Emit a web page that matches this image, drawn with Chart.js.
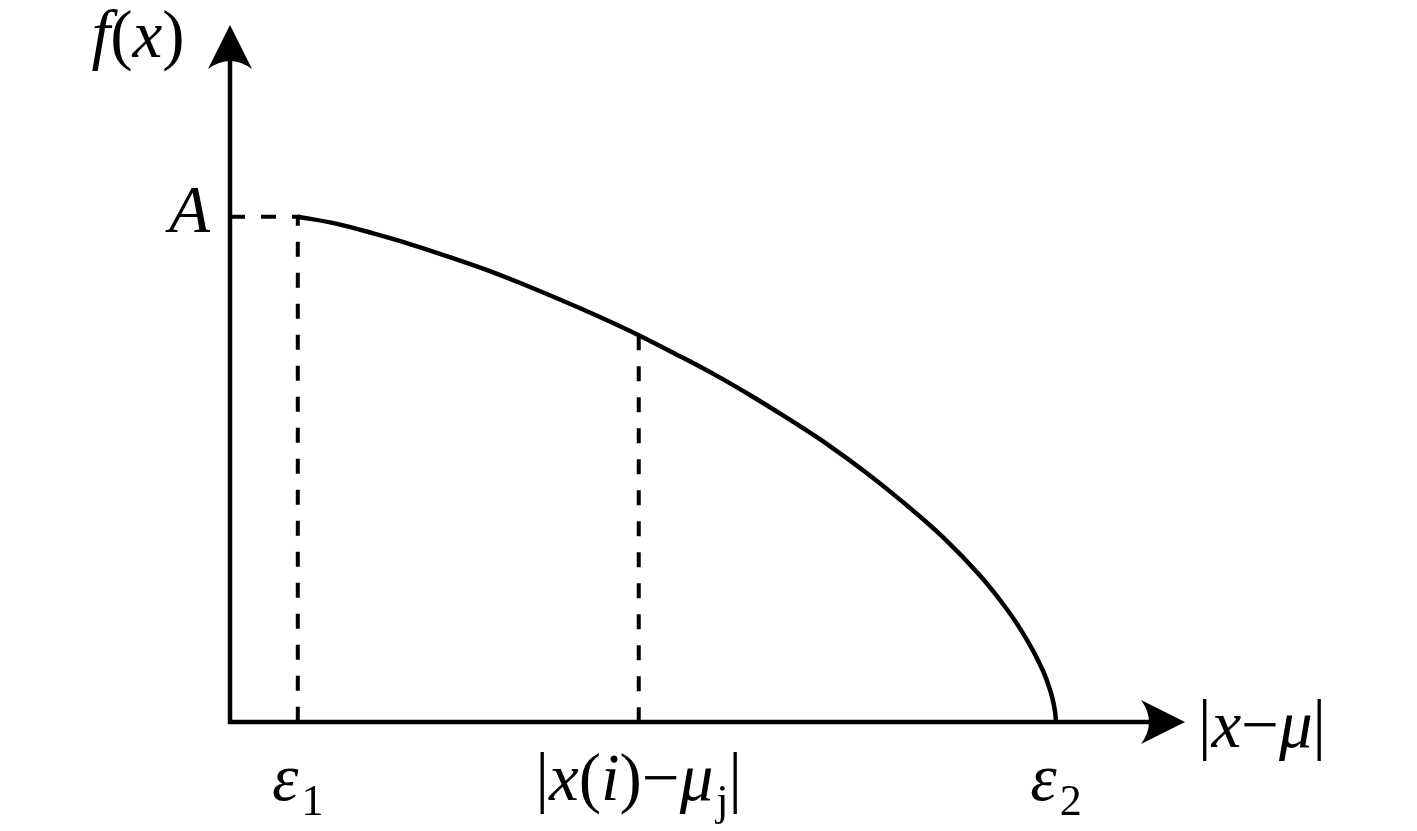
<!DOCTYPE html>
<html>
<head>
<meta charset="utf-8">
<script src="https://cdn.jsdelivr.net/npm/chart.js@4.4.1/dist/chart.umd.min.js"></script>
<style>
html,body{margin:0;padding:0;background:#fff;}
#wrap{width:1417px;height:831px;}
</style>
</head>
<body>
<div id="wrap"><canvas id="c" width="1417" height="831"></canvas></div>
<script>
// ---- data (abstract units: x and y both 0..100) ----
const curveX = [7.1, 11.1, 15.0, 19.0, 23.0, 27.0, 30.9, 34.9, 38.9, 42.8, 46.8, 50.8, 54.7, 58.7, 62.7, 66.7, 70.6, 74.6, 78.6, 80.9, 82.5, 84.1, 84.9, 85.3, 85.7, 86.1, 86.4, 86.5];
const curveY = [72.5, 71.5, 70.1, 68.5, 66.7, 64.8, 62.7, 60.4, 58.0, 55.5, 52.7, 49.8, 46.7, 43.3, 39.7, 35.7, 31.4, 26.6, 20.9, 17.0, 13.9, 10.2, 8.0, 6.8, 5.3, 3.5, 1.4, 0];
const peakA = 72.5;
const eps1 = 7.1, xiMu = 42.8, eps2 = 86.5;
const xTickValues = [eps1, xiMu, eps2];
// label pieces: [text, 'i' italic | 'n' normal | 'sn' subscript]
const xTickLabels = [
  [['ε','i'],['1','sn']],
  [['|','n'],['x','i'],['(','n'],['i','i'],[')','n'],['−','n'],['μ','i'],['j','sn'],['|','n']],
  [['ε','i'],['2','sn']]
];
const yTickValues = [peakA];
const yTickLabels = [[['A','i']]];
const yAxisTitle = [['f','i'],['(','n'],['x','i'],[')','n']];
const xAxisTitle = [['|','n'],['x','i'],['−','n'],['μ','i'],['|','n']];

const curvePts = curveX.map((x,i)=>({x, y: curveY[i]}));
const midY = curveY[curveX.indexOf(xiMu)];

const FS = 67, SFS = 44;
const FAM = '"Liberation Serif", "DejaVu Serif", serif';
function fontFor(st){
  if (st==='i') return 'italic ' + FS + 'px ' + FAM;
  if (st==='n') return FS + 'px ' + FAM;
  if (st==='si') return 'italic ' + SFS + 'px ' + FAM;
  return SFS + 'px ' + FAM;
}
function measureRich(ctx, parts){
  let w=0;
  for (const [t,st] of parts){ ctx.font=fontFor(st); w+=ctx.measureText(t).width + (st[0]==='s'?3:0); }
  return w;
}
function drawRich(ctx, parts, x, y, align){
  const w = measureRich(ctx, parts);
  let cx = align==='center' ? x - w/2 : (align==='right' ? x - w : x);
  ctx.textBaseline='alphabetic'; ctx.textAlign='left'; ctx.fillStyle='#000';
  for (const [t,st] of parts){
    ctx.font=fontFor(st);
    const sub = st[0]==='s';
    if (sub) cx += 3;
    ctx.fillText(t, cx, sub ? y+15 : y);
    cx += ctx.measureText(t).width;
  }
}

const axesPlugin = {
  id:'axesPlugin',
  afterDatasetsDraw(chart){
    const ctx = chart.ctx, xs = chart.scales.x, ys = chart.scales.y;
    const x0 = xs.getPixelForValue(0), y0 = ys.getPixelForValue(0);
    const xEnd = xs.getPixelForValue(100), yEnd = ys.getPixelForValue(100);
    ctx.save();
    ctx.strokeStyle='#000'; ctx.lineWidth=4.5; ctx.lineCap='butt';
    ctx.beginPath();
    ctx.moveTo(x0-2.25, y0); ctx.lineTo(xEnd-20, y0);
    ctx.moveTo(x0, y0+2.25); ctx.lineTo(x0, yEnd+20);
    ctx.stroke();
    ctx.fillStyle='#000';
    // y arrow
    ctx.beginPath();
    ctx.moveTo(x0, yEnd);
    ctx.lineTo(x0+22, yEnd+44);
    ctx.quadraticCurveTo(x0, yEnd+28, x0-22, yEnd+44);
    ctx.closePath(); ctx.fill();
    // x arrow
    ctx.beginPath();
    ctx.moveTo(xEnd, y0);
    ctx.lineTo(xEnd-44, y0+22);
    ctx.quadraticCurveTo(xEnd-28, y0, xEnd-44, y0-22);
    ctx.closePath(); ctx.fill();
    // labels
    xTickValues.forEach((v,i)=>{
      drawRich(ctx, xTickLabels[i], xs.getPixelForValue(v), y0+78, 'center');
    });
    yTickValues.forEach((v,i)=>{
      drawRich(ctx, yTickLabels[i], x0-20, ys.getPixelForValue(v)+15, 'right');
    });
    drawRich(ctx, yAxisTitle, x0-92, yEnd+32, 'center');
    drawRich(ctx, xAxisTitle, xEnd+13, y0+25, 'left');
    ctx.restore();
  }
};

new Chart(document.getElementById('c'), {
  type:'scatter',
  data:{
    datasets:[
      {data:curvePts, showLine:true, borderColor:'#000', borderWidth:4.5, pointRadius:0, cubicInterpolationMode:'monotone', fill:false},
      {data:[{x:0,y:peakA},{x:eps1,y:peakA},{x:eps1,y:0}], showLine:true, borderColor:'#000', borderWidth:4, borderDash:[15,16], pointRadius:0, tension:0},
      {data:[{x:xiMu,y:midY},{x:xiMu,y:0}], showLine:true, borderColor:'#000', borderWidth:4, borderDash:[15,16], pointRadius:0, tension:0}
    ]
  },
  options:{
    responsive:false, animation:false, devicePixelRatio:1,
    layout:{padding:{left:230, right:232, top:25, bottom:109}},
    plugins:{legend:{display:false}, tooltip:{enabled:false}},
    scales:{
      x:{type:'linear', min:0, max:100, display:false},
      y:{type:'linear', min:0, max:100, display:false}
    }
  },
  plugins:[axesPlugin]
});
</script>
</body>
</html>
